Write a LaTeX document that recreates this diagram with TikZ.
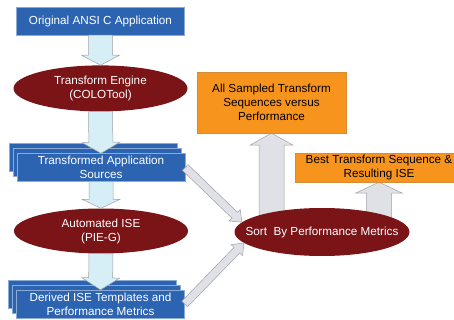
\documentclass[tikz,border=0pt]{standalone}
\usepackage{fontspec}
\setmainfont{Liberation Sans}
\usetikzlibrary{positioning,shapes.geometric,shadows,calc,backgrounds}

\definecolor{boxblue}{RGB}{44,100,178}
\definecolor{ovalred}{RGB}{122,20,23}
\definecolor{boxorange}{RGB}{247,148,30}
\definecolor{arrowcyan}{RGB}{214,238,245}
\definecolor{arrowgray}{RGB}{224,224,231}
\definecolor{edgegray}{RGB}{160,160,168}

\tikzset{
  bluebox/.style={draw=boxblue!55!white, line width=0.4pt, fill=boxblue, text=white,
    minimum width=168pt, minimum height=28pt, inner sep=1pt, align=center},
  stackbox/.style={bluebox, double copy shadow={shadow xshift=-4pt, shadow yshift=5pt}},
  redoval/.style={ellipse, fill=ovalred, text=white, minimum width=174pt,
    minimum height=46pt, inner sep=0pt, align=center},
  orangebox/.style={draw=boxorange!70!gray, line width=0.4pt, fill=boxorange,
    text=black, inner sep=1pt, align=center},
  flowarrow/.style={draw=edgegray, line width=0.5pt, fill=arrowcyan},
  sortarrow/.style={draw=edgegray, line width=0.5pt, fill=arrowgray},
}

% fat block arrow: style, from, to, half shaft, half head, head length
\newcommand{\blockarrow}[6]{%
  \coordinate (ba-h) at ($(#3)!#6!(#2)$);
  \draw[#1] ($(#2)!#4!90:(#3)$) -- ($(ba-h)!#4!90:(#3)$) -- ($(ba-h)!#5!90:(#3)$)
    -- (#3) -- ($(ba-h)!#5!-90:(#3)$) -- ($(ba-h)!#4!-90:(#3)$)
    -- ($(#2)!#4!-90:(#3)$) -- cycle;
}

\begin{document}
\begin{tikzpicture}[x=1pt, y=-1pt, font=\fontsize{11.7}{14}\selectfont]
  \useasboundingbox (0,0) rectangle (454,320);
  \clip (0,0) rectangle (454,320);

  % tool chain on the left
  \node[bluebox] (orig) at (100.5,21) {Original ANSI C Application};
  \node[redoval, below=30pt of orig] (engine) {Transform Engine\\(COLOTool)};
  \node[stackbox] (srcs) at (101,167.5) {Transformed Application\\Sources};
  \node[redoval, minimum height=45pt] (ise) at (101,231) {Automated ISE\\(PIE-G)};
  \node[stackbox] (derived) at (100.5,304) {Derived ISE Templates and\\Performance Metrics};

  % sorting and results
  \node[redoval, minimum width=175pt, minimum height=48pt, inner xsep=-15pt] (sort)
    at (322,232) {Sort\ \ By Performance Metrics};
  \node[orangebox, minimum width=149pt, minimum height=61pt] (all) at (271.5,102.5)
    {All Sampled Transform\\Sequences versus\\Performance};
  \node[orangebox, minimum width=168pt, minimum height=29pt] (best) at (379,167.5)
    {Best Transform Sequence \&\\Resulting ISE};

  \blockarrow{flowarrow}{orig.south}{engine.north}{12pt}{19pt}{10pt}
  \blockarrow{flowarrow}{engine.south}{srcs.north}{12pt}{19pt}{11pt}
  \blockarrow{flowarrow}{srcs.south}{ise.north}{12pt}{19pt}{9pt}
  \blockarrow{flowarrow}{ise.south}{derived.north}{12pt}{19pt}{12pt}

  \blockarrow{sortarrow}{srcs.east}{sort.173}{4pt}{8pt}{10pt}
  \blockarrow{sortarrow}{derived.east}{sort.188}{4pt}{8pt}{10pt}

  \coordinate (allfoot) at (sort.center -| all.south);
  \coordinate (bestfoot) at (sort.center -| best.south);
  \begin{scope}[on background layer]
    \blockarrow{sortarrow}{allfoot}{all.south}{12.5pt}{21.5pt}{12pt}
    \blockarrow{sortarrow}{bestfoot}{best.south}{12.5pt}{23.5pt}{11pt}
  \end{scope}
\end{tikzpicture}
\end{document}
